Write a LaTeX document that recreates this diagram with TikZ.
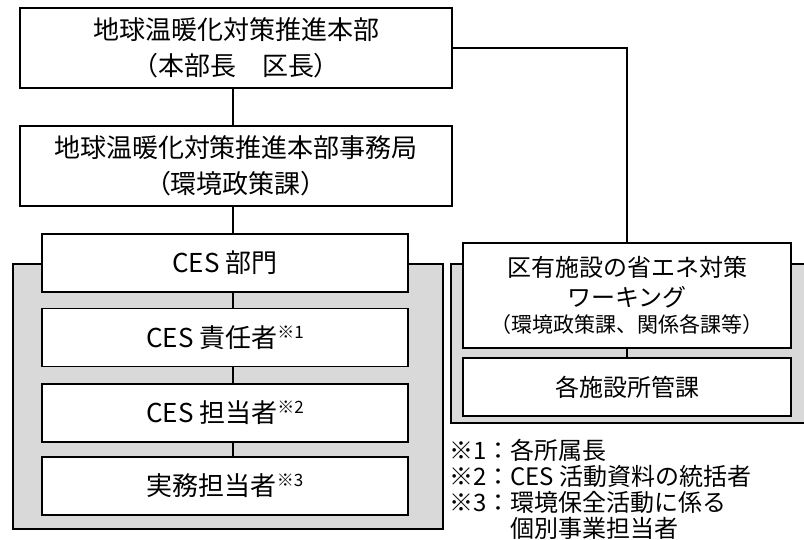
\documentclass[tikz,border=0pt]{standalone}
\usepackage{fontspec}
\setmainfont{Noto Sans CJK JP}
\usetikzlibrary{calc}
\definecolor{graybg}{HTML}{D9D9D9}
\newcommand\nsup[1]{\raisebox{9pt}{\fontsize{17}{17}\selectfont #1}}
\tikzset{
  box/.style={draw=black, line width=1.5pt, fill=white, align=center, inner sep=0pt,
    font=\fontsize{26}{36}\selectfont},
  rbox/.style={box, minimum width=328pt, font=\fontsize{24}{30}\selectfont},
  lbox/.style={box, minimum width=366pt, minimum height=58pt},
  tbox/.style={box, minimum width=432pt, minimum height=80pt},
  conn/.style={draw=black, line width=1.3pt},
  grp/.style={draw=black, line width=1.5pt, fill=graybg},
}
\begin{document}
\begin{tikzpicture}[x=1pt,y=-1pt]
\useasboundingbox (0,0) rectangle (804,540);
% gray groups
\draw[grp] (13,264) rectangle (443,529);
\fill[graybg] (451,264) rectangle (804,423);
\draw[line width=1.5pt] (806,264) -- (451,264) -- (451,423) -- (806,423);
% nodes
\node[tbox] (hq) at (236,48) {地球温暖化対策推進本部\\（本部長　区長）};
\node[tbox] (sec) at (236,166) {地球温暖化対策推進本部事務局\\（環境政策課）};
\node[lbox] (ces) at (225,263) {CES 部門};
\node[lbox] (resp) at (225,337.5) {CES 責任者\nsup{※1}};
\node[lbox] (tanto) at (225,413) {CES 担当者\nsup{※2}};
\node[lbox] (jitsu) at (225,486) {実務担当者\nsup{※3}};
\node[rbox, minimum height=105pt] (wg) at (627,295.5)
  {区有施設の省エネ対策\\ワーキング\\[-4pt]{\fontsize{21}{24}\selectfont （環境政策課、関係各課等）}};
\node[rbox, minimum height=58pt] (fac) at (627,387) {各施設所管課};
% connectors
\coordinate (cx) at (233,0);
\draw[conn] (hq.south -| cx) -- (sec.north -| cx);
\draw[conn] (sec.south -| cx) -- (ces.north -| cx);
\draw[conn] (ces.south -| cx) -- (resp.north -| cx);
\draw[conn] (resp.south -| cx) -- (tanto.north -| cx);
\draw[conn] (tanto.south -| cx) -- (jitsu.north -| cx);
\draw[conn] (hq.east) -| (wg.north);
\draw[conn] (wg.south) -- (fac.north);
% notes
\node[anchor=north west, align=left, inner sep=0pt, font=\fontsize{24}{26}\selectfont] (notes) at (449,439)
  {※1：各所属長\\※2：CES 活動資料の統括者\\※3：環境保全活動に係る\\\phantom{※3：}個別事業担当者};
\end{tikzpicture}
\end{document}
